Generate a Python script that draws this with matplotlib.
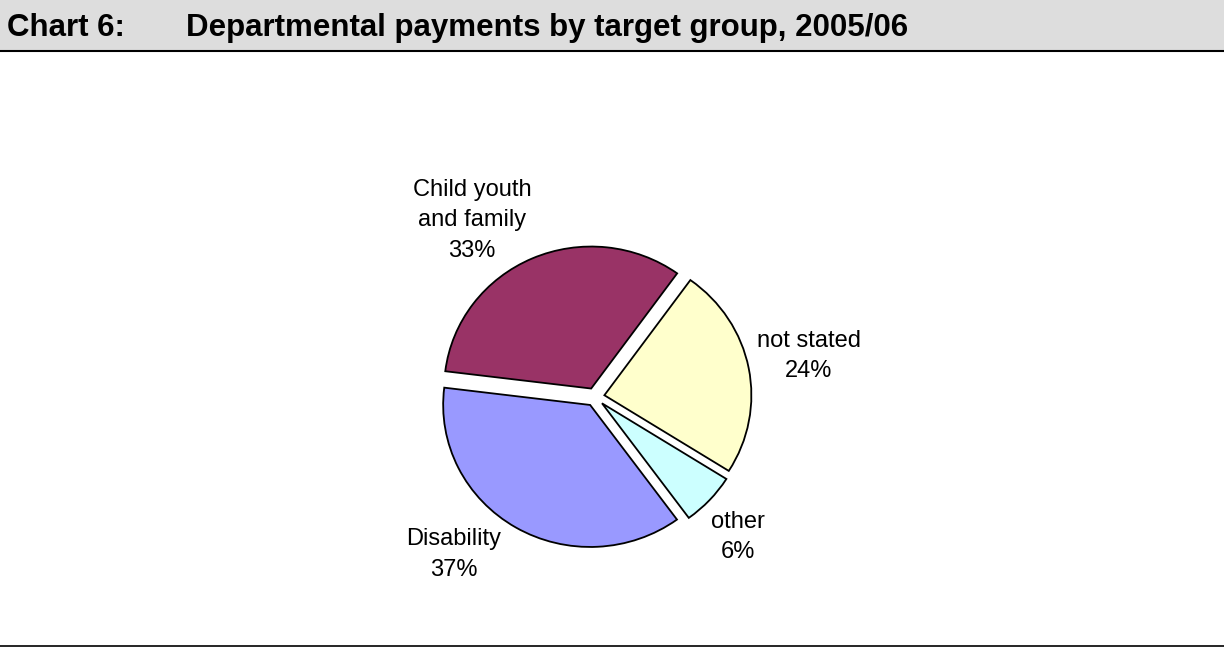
import matplotlib
matplotlib.use('Agg')
import matplotlib.pyplot as plt
import numpy as np
from matplotlib.patches import Rectangle
from matplotlib.lines import Line2D

plt.rcParams['font.family'] = ['Liberation Sans', 'DejaVu Sans']

# Data
groups = ['Child youth\nand family', 'not stated', 'other', 'Disability']
shares = [33, 24, 6, 37]
colours = ['#993366', '#FFFFCC', '#CCFFFF', '#9999FF']

W, H = 1224, 647
fig = plt.figure(figsize=(W / 100, H / 100), dpi=100)

# Header band with title and rule
fig.patches.append(Rectangle((0, 1 - 50 / H), 1, 50 / H, transform=fig.transFigure,
                             facecolor='#DDDDDD', edgecolor='none', zorder=0))
fig.lines.append(Line2D([0, 1], [1 - 51 / H, 1 - 51 / H], transform=fig.transFigure,
                        color='black', linewidth=1.5))
fig.lines.append(Line2D([0, 1], [1 - 645.5 / H, 1 - 645.5 / H], transform=fig.transFigure,
                        color='black', linewidth=1.2))
fig.text(7 / W, 1 - 36 / H, 'Chart 6:', fontsize=22.5, fontweight='bold', va='baseline')
fig.text(186 / W, 1 - 36 / H, 'Departmental payments by target group, 2005/06',
         fontsize=22.5, fontweight='bold', va='baseline')

# Pie axes: centre at (595, 397) px, radius ~147 px wide, ~142 px tall
cx, cy, rx, ry = 595, 397, 147, 142
ax = fig.add_axes([(cx - 1.5 * rx) / W, (H - cy - 1.5 * ry) / H, 3 * rx / W, 3 * ry / H])

wedges, _ = ax.pie(shares, colors=colours, startangle=173, counterclock=False,
                   explode=[0.065] * 4,
                   wedgeprops=dict(edgecolor='black', linewidth=1.3))
ax.set_aspect('auto')
ax.set_xlim(-1.5, 1.5)
ax.set_ylim(-1.5, 1.5)
ax.axis('off')

# Label placement: angle shift from wedge middle and distance from centre
label_shift = [10.3, 0.2, -2.4, -10.5]
label_dist = [1.50, 1.483, 1.385, 1.467]
for w, g, s, sh, d in zip(wedges, groups, shares, label_shift, label_dist):
    ang = np.deg2rad((w.theta1 + w.theta2) / 2 + sh)
    ax.text(d * np.cos(ang), d * np.sin(ang), f'{g}\n{s}%', ha='center', va='center',
            fontsize=17, linespacing=1.5, clip_on=False)

fig.savefig('out.png', dpi=100)
